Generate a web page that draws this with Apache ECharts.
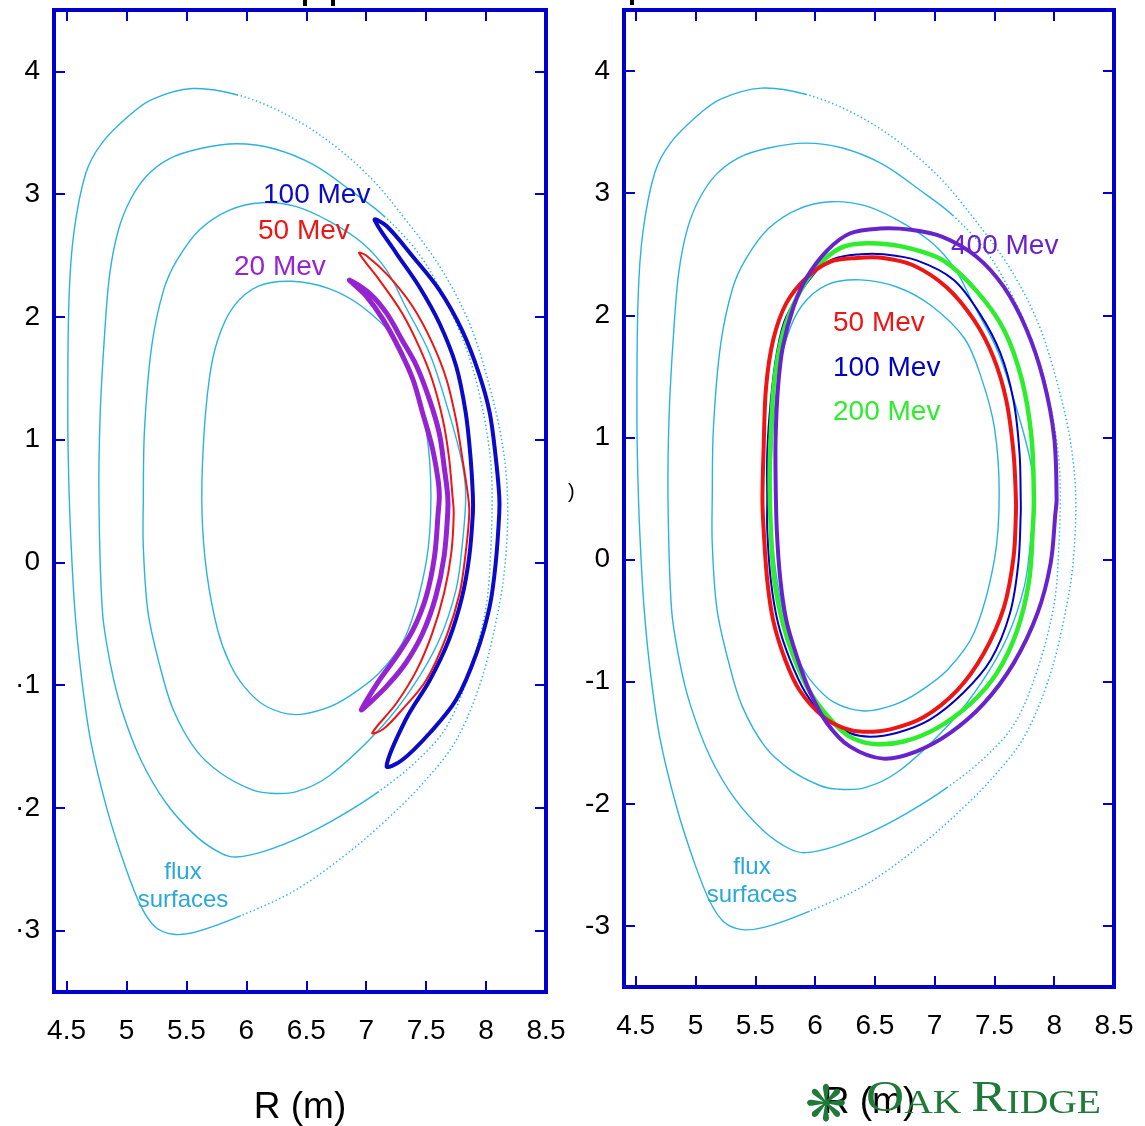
<!DOCTYPE html>
<html><head><meta charset="utf-8">
<script src="https://cdn.jsdelivr.net/npm/echarts@6/dist/echarts.min.js"></script>
<style>html,body{margin:0;padding:0;background:#fff}#c{width:1145px;height:1126px}</style>
</head><body><div id="c"></div>
<script>
// ---- tick values ----
const xTickValues = [4.5, 5, 5.5, 6, 6.5, 7, 7.5, 8, 8.5];
const yTickValues = [-3, -2, -1, 0, 1, 2, 3, 4];

// ---- flux surfaces [R, Z] (shared by both panels), closed curves, clockwise ----
const fluxA = [[5.92,3.81],[6.29,3.67],[6.66,3.45],[7.03,3.14],[7.33,2.79],[7.62,2.40],[7.86,1.95],[8.03,1.43],[8.14,0.94],[8.18,0.50],[8.16,0.00],[8.10,-0.40],[7.96,-0.96],[7.75,-1.45],[7.50,-1.77],[7.22,-2.05],[6.87,-2.35],[6.41,-2.67],[5.95,-2.88],[5.58,-3.01],[5.39,-3.03],[5.24,-2.97],[5.12,-2.80],[4.99,-2.48],[4.84,-2.02],[4.70,-1.45],[4.62,-0.90],[4.57,-0.40],[4.54,0.10],[4.52,0.60],[4.51,1.20],[4.52,2.14],[4.56,2.68],[4.66,3.17],[4.79,3.41],[5.01,3.63],[5.21,3.77],[5.55,3.86]];
const fluxB = [[7.15,2.82],[7.45,2.50],[7.68,2.10],[7.85,1.70],[7.96,1.30],[8.03,0.90],[8.05,0.60],[8.04,0.13],[8.00,-0.36],[7.86,-0.90],[7.67,-1.34],[7.42,-1.62],[7.10,-1.87],[6.78,-2.07],[6.47,-2.23],[6.16,-2.35],[5.92,-2.40],[5.79,-2.37],[5.58,-2.23],[5.33,-1.96],[5.12,-1.61],[4.96,-1.20],[4.87,-0.85],[4.80,-0.41],[4.77,0.50],[4.78,1.20],[4.82,1.90],[4.86,2.35],[4.93,2.70],[5.03,2.95],[5.17,3.15],[5.36,3.29],[5.61,3.37],[5.92,3.41],[6.23,3.37],[6.56,3.24],[6.87,3.03]];
const fluxC = [[6.13,2.93],[6.41,2.90],[6.69,2.78],[6.97,2.60],[7.17,2.38],[7.33,2.08],[7.53,1.70],[7.69,1.22],[7.80,0.81],[7.83,0.54],[7.80,0.13],[7.75,-0.22],[7.61,-0.63],[7.39,-1.01],[7.11,-1.36],[6.69,-1.74],[6.41,-1.87],[6.19,-1.88],[6.04,-1.85],[5.79,-1.72],[5.58,-1.53],[5.39,-1.20],[5.28,-0.85],[5.18,-0.41],[5.14,0.13],[5.14,0.50],[5.15,1.08],[5.21,1.76],[5.31,2.22],[5.42,2.46],[5.61,2.71],[5.86,2.87]];
const fluxD = [[6.38,2.29],[6.69,2.23],[6.97,2.08],[7.25,1.81],[7.39,1.49],[7.50,1.08],[7.54,0.54],[7.50,0.00],[7.33,-0.60],[7.11,-0.90],[6.86,-1.09],[6.66,-1.19],[6.41,-1.24],[6.16,-1.17],[5.98,-1.01],[5.86,-0.82],[5.76,-0.55],[5.67,-0.09],[5.63,0.40],[5.64,0.94],[5.69,1.49],[5.76,1.81],[5.89,2.08],[6.10,2.25]];

// ---- left panel orbits (banana orbits) ----
const left100Mev = [[7.07,2.79],[7.17,2.74],[7.39,2.49],[7.61,2.22],[7.80,1.89],[7.94,1.54],[8.03,1.22],[8.08,0.86],[8.11,0.54],[8.11,0.40],[8.08,-0.01],[8.03,-0.36],[7.92,-0.74],[7.75,-1.12],[7.53,-1.39],[7.30,-1.61],[7.17,-1.66],[7.33,-1.28],[7.53,-0.96],[7.69,-0.63],[7.80,-0.28],[7.86,0.05],[7.89,0.40],[7.89,0.54],[7.87,0.86],[7.83,1.22],[7.75,1.60],[7.61,1.95],[7.44,2.25],[7.25,2.52]];
const left50Mev = [[6.94,2.52],[7.00,2.50],[7.19,2.33],[7.39,2.08],[7.55,1.79],[7.67,1.49],[7.75,1.16],[7.80,0.86],[7.85,0.54],[7.86,0.40],[7.83,0.08],[7.78,-0.25],[7.67,-0.60],[7.50,-0.96],[7.30,-1.20],[7.14,-1.36],[7.05,-1.39],[7.25,-1.15],[7.42,-0.88],[7.55,-0.58],[7.65,-0.25],[7.71,0.08],[7.73,0.40],[7.72,0.54],[7.69,0.86],[7.64,1.16],[7.55,1.49],[7.44,1.76],[7.30,2.03],[7.11,2.30]];
const left20Mev = [[6.86,2.30],[7.03,2.19],[7.17,2.03],[7.30,1.81],[7.42,1.60],[7.53,1.32],[7.61,1.05],[7.65,0.78],[7.68,0.54],[7.68,0.40],[7.65,0.05],[7.58,-0.28],[7.47,-0.58],[7.33,-0.82],[7.17,-1.01],[7.00,-1.17],[6.96,-1.20],[7.11,-0.96],[7.25,-0.77],[7.39,-0.55],[7.50,-0.28],[7.57,0.05],[7.60,0.40],[7.61,0.54],[7.60,0.67],[7.55,0.94],[7.47,1.22],[7.39,1.49],[7.28,1.73],[7.14,1.98],[7.00,2.17]];

// ---- right panel orbits ----
const right400Mev = [[6.54,2.71],[6.80,2.70],[7.07,2.64],[7.35,2.48],[7.58,2.23],[7.77,1.88],[7.91,1.47],[8.00,1.00],[8.02,0.49],[8.01,0.38],[7.97,-0.03],[7.86,-0.44],[7.66,-0.85],[7.41,-1.18],[7.13,-1.42],[6.85,-1.57],[6.57,-1.63],[6.29,-1.53],[6.10,-1.34],[5.96,-1.09],[5.85,-0.80],[5.76,-0.50],[5.71,-0.17],[5.68,0.24],[5.67,0.65],[5.67,1.00],[5.69,1.41],[5.73,1.74],[5.82,2.07],[5.93,2.31],[6.10,2.53],[6.29,2.67]];
const right200Mev = [[6.43,2.59],[6.74,2.56],[7.07,2.45],[7.35,2.20],[7.58,1.88],[7.73,1.47],[7.81,1.00],[7.83,0.49],[7.82,0.24],[7.79,-0.17],[7.69,-0.58],[7.52,-0.93],[7.30,-1.18],[7.02,-1.38],[6.74,-1.49],[6.49,-1.51],[6.29,-1.45],[6.13,-1.31],[5.96,-1.09],[5.83,-0.82],[5.73,-0.52],[5.66,-0.17],[5.63,0.24],[5.62,0.65],[5.63,1.03],[5.66,1.47],[5.73,1.85],[5.85,2.15],[6.01,2.39],[6.21,2.55]];
const right100Mev = [[6.38,2.50],[6.57,2.50],[6.85,2.45],[7.16,2.29],[7.38,2.01],[7.55,1.69],[7.66,1.30],[7.71,0.87],[7.72,0.49],[7.72,0.38],[7.70,-0.03],[7.63,-0.44],[7.47,-0.82],[7.24,-1.09],[6.96,-1.31],[6.68,-1.42],[6.46,-1.45],[6.29,-1.42],[6.10,-1.31],[5.92,-1.09],[5.79,-0.82],[5.69,-0.52],[5.63,-0.17],[5.60,0.24],[5.60,0.49],[5.60,0.87],[5.63,1.30],[5.68,1.69],[5.76,1.99],[5.99,2.34],[6.15,2.46]];
const right50Mev = [[6.35,2.47],[6.57,2.47],[6.82,2.41],[7.10,2.23],[7.33,1.96],[7.49,1.66],[7.60,1.30],[7.66,0.87],[7.68,0.49],[7.68,0.38],[7.66,0.02],[7.58,-0.39],[7.41,-0.77],[7.19,-1.07],[6.91,-1.29],[6.63,-1.39],[6.40,-1.41],[6.24,-1.38],[6.07,-1.29],[5.87,-1.07],[5.75,-0.82],[5.65,-0.50],[5.60,-0.17],[5.57,0.24],[5.56,0.49],[5.57,0.92],[5.59,1.41],[5.65,1.80],[5.76,2.10],[5.93,2.31],[6.13,2.44]];

// ---- styling ----
const FONT = 'Liberation Sans, Arial, sans-serif';
const FRAME = '#0000cc';
const FLUX = '#2bb3e0';
const DOT = [1.4, 2.6];
const A_DOT_END = 18, B_DOT_END = 12;

const chart = echarts.init(document.getElementById('c'), null, {renderer: 'canvas'});

// closed smooth spline (Catmull-Rom style, distance-weighted) through pixel points, segments i0..i1-1
function splinePath(px, i0, i1) {
  const n = px.length, f = v => v.toFixed(2), w = i => ((i % n) + n) % n;
  const d = (a, b) => Math.hypot(a[0] - b[0], a[1] - b[1]) || 1e-6;
  let s = 'M' + f(px[w(i0)][0]) + ' ' + f(px[w(i0)][1]);
  for (let i = i0; i < i1; i++) {
    const p0 = px[w(i - 1)], p1 = px[w(i)], p2 = px[w(i + 1)], p3 = px[w(i + 2)];
    const d01 = d(p0, p1), d12 = d(p1, p2), d23 = d(p2, p3);
    const k1 = d12 / (d01 + d12) / 3, k2 = d12 / (d12 + d23) / 3;
    const c1 = [p1[0] + (p2[0] - p0[0]) * k1, p1[1] + (p2[1] - p0[1]) * k1];
    const c2 = [p2[0] - (p3[0] - p1[0]) * k2, p2[1] - (p3[1] - p1[1]) * k2];
    s += ' C' + f(c1[0]) + ' ' + f(c1[1]) + ' ' + f(c2[0]) + ' ' + f(c2[1]) + ' ' + f(p2[0]) + ' ' + f(p2[1]);
  }
  return s;
}
function curve(name, pts, gi, z, segs) {
  return {type: 'custom', name: name, xAxisIndex: gi * 2, yAxisIndex: gi * 2, data: pts, encode: {x: 0, y: 1},
    z: z, silent: true, clip: true,
    renderItem: function (params, api) {
      if (params.dataIndex !== 0) return null;
      const px = pts.map(p => api.coord(p));
      return {type: 'group', children: segs.map(sg => ({
        type: 'path', shape: {pathData: splinePath(px, sg.from, sg.to == null ? pts.length : sg.to)},
        style: {fill: 'none', stroke: sg.color, lineWidth: sg.width, lineDash: sg.dash || null,
                lineCap: sg.dash ? 'butt' : 'round', lineJoin: 'round'}}))};
    }};
}
function loop(name, pts, gi, z, color, width) {
  return curve(name, pts, gi, z, [{from: 0, to: null, color: color, width: width}]);
}
function fluxSeries(gi) {
  return [
    curve('fluxA', fluxA, gi, 2, [{from: 0, to: A_DOT_END, color: FLUX, width: 1.5, dash: DOT}, {from: A_DOT_END, to: null, color: FLUX, width: 1.4}]),
    curve('fluxB', fluxB, gi, 2, [{from: 0, to: B_DOT_END, color: FLUX, width: 1.5, dash: DOT}, {from: B_DOT_END, to: null, color: FLUX, width: 1.4}]),
    loop('fluxC', fluxC, gi, 2, FLUX, 1.4),
    loop('fluxD', fluxD, gi, 2, FLUX, 1.4)
  ];
}
function axesFor(gi, minX, dotMinus) {
  const fmtY = v => v < 0 ? (dotMinus ? '\u00b7' : '-') + Math.abs(v) : String(v);
  const tickStyle = {color: FRAME, width: 2};
  const base = {type: 'value', gridIndex: gi, splitLine: {show: false}};
  return {
    x: [
      Object.assign({}, base, {position: 'bottom', min: minX, max: 8.5,
       axisLine: {show: false, onZero: false},
       axisTick: {show: true, inside: true, length: 11, lineStyle: tickStyle, customValues: xTickValues.slice(0, 8)},
       axisLabel: {show: true, customValues: xTickValues, formatter: v => String(v), fontSize: 28, color: '#000', fontFamily: FONT, margin: 25},
       name: 'R (m)', nameLocation: 'middle', nameGap: 97,
       nameTextStyle: {fontSize: 37, color: '#000', fontFamily: FONT}}),
      Object.assign({}, base, {position: 'top', min: minX, max: 8.5,
       axisLine: {show: false, onZero: false},
       axisTick: {show: true, inside: true, length: 11, lineStyle: tickStyle, customValues: xTickValues.slice(0, 8)},
       axisLabel: {show: false}})
    ],
    y: [
      Object.assign({}, base, {position: 'left', min: -3.5, max: 4.5,
       axisLine: {show: false, onZero: false},
       axisTick: {show: true, inside: true, length: 11, lineStyle: tickStyle, customValues: yTickValues},
       axisLabel: {show: true, customValues: yTickValues, formatter: fmtY, fontSize: 28, color: '#000', fontFamily: FONT, margin: 14}}),
      Object.assign({}, base, {position: 'right', min: -3.5, max: 4.5,
       axisLine: {show: false, onZero: false},
       axisTick: {show: true, inside: true, length: 11, lineStyle: tickStyle, customValues: yTickValues},
       axisLabel: {show: false}})
    ]
  };
}
const a0 = axesFor(0, 4.395, true);
const a1 = axesFor(1, 4.402, false);

function label(text, x, y, color, size) {
  return {type: 'text', x: x, y: y, z: 100, silent: true,
    style: {text: text, fill: color, font: (size || 28) + 'px ' + FONT, textAlign: 'left', textVerticalAlign: 'middle'}};
}

const series = [].concat(
  fluxSeries(0),
  [loop('100 Mev', left100Mev, 0, 5, '#0a0ac8', 4), loop('50 Mev', left50Mev, 0, 6, '#ee1515', 2), loop('20 Mev', left20Mev, 0, 7, '#9623d2', 5)],
  fluxSeries(1),
  [loop('100 Mev', right100Mev, 1, 5, '#0000c0', 2), loop('200 Mev', right200Mev, 1, 6, '#2ded2d', 4.5), loop('50 Mev', right50Mev, 1, 7, '#ee1515', 4), loop('400 Mev', right400Mev, 1, 8, '#6923cd', 4)]
);

chart.setOption({
  animation: false,
  backgroundColor: '#fff',
  grid: [
    {left: 54, top: 10, width: 492, height: 982, show: true, borderColor: FRAME, borderWidth: 4, backgroundColor: 'transparent', containLabel: false, outerBoundsMode: 'none'},
    {left: 624, top: 10, width: 490, height: 977, show: true, borderColor: FRAME, borderWidth: 4, backgroundColor: 'transparent', containLabel: false, outerBoundsMode: 'none'}
  ],
  xAxis: a0.x.concat(a1.x),
  yAxis: a0.y.concat(a1.y),
  series: series,
  graphic: [
    label('100 Mev', 263, 195, '#0a0ac8'),
    label('50 Mev', 258, 231, '#ee1515'),
    label('20 Mev', 234, 267, '#9623d2'),
    label('400 Mev', 951, 246, '#6923cd'),
    label('50 Mev', 833, 323, '#ee1515'),
    label('100 Mev', 833, 368, '#0000c0'),
    label('200 Mev', 833, 412, '#2ded2d'),
    {type: 'text', x: 183, y: 886, z: 100, silent: true,
     style: {text: 'flux\nsurfaces', fill: '#2aa8d8', font: '24px ' + FONT, textAlign: 'center', textVerticalAlign: 'middle', lineHeight: 28}},
    {type: 'text', x: 752, y: 881, z: 100, silent: true,
     style: {text: 'flux\nsurfaces', fill: '#2aa8d8', font: '24px ' + FONT, textAlign: 'center', textVerticalAlign: 'middle', lineHeight: 28}},
    {type: 'text', x: 568, y: 492, z: 100, silent: true,
     style: {text: ')', fill: '#000', font: '20px ' + FONT, textAlign: 'left', textVerticalAlign: 'middle'}},
    {type: 'rect', shape: {x: 303, y: 0, width: 4, height: 6}, style: {fill: '#000'}, silent: true},
    {type: 'rect', shape: {x: 331, y: 0, width: 4, height: 6}, style: {fill: '#000'}, silent: true},
    {type: 'rect', shape: {x: 630, y: 0, width: 4, height: 5}, style: {fill: '#000'}, silent: true},
    {type: 'text', x: 805, y: 1108, z: 1, silent: true,
     style: {text: '\u274b', fill: '#1f7a3a', font: '50px DejaVu Sans', textAlign: 'left', textVerticalAlign: 'middle'}},
    {type: 'text', x: 866, y: 1121, z: 1, silent: true, scaleX: 1.2, originX: 0, originY: 0,
     style: {text: '{b|O}{s|AK }{b|R}{s|IDGE}', textAlign: 'left', textVerticalAlign: 'bottom',
       rich: {b: {fontSize: 44, fontFamily: 'Liberation Serif, serif', fill: '#1f7a3a', color: '#1f7a3a', verticalAlign: 'bottom'},
              s: {fontSize: 33, fontFamily: 'Liberation Serif, serif', fill: '#1f7a3a', color: '#1f7a3a', verticalAlign: 'bottom'}}}}
  ]
});
</script></body></html>
